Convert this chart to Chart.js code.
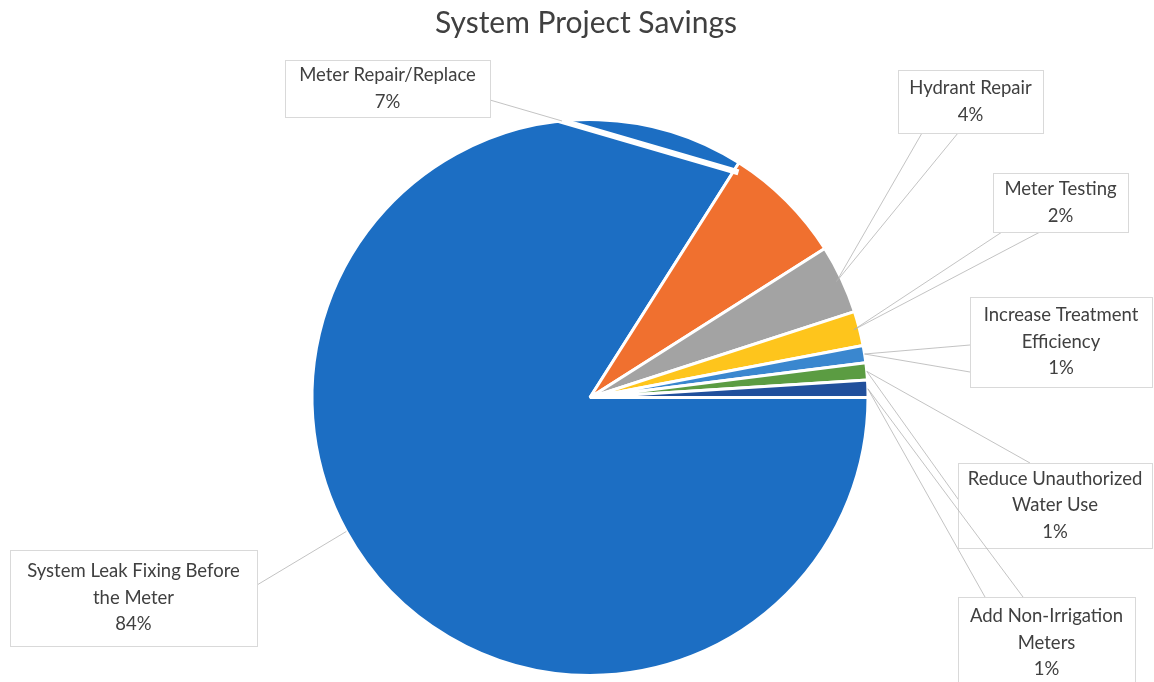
<!DOCTYPE html>
<html>
<head>
<meta charset="utf-8">
<title>System Project Savings</title>
<script src="https://cdn.jsdelivr.net/npm/chart.js@4.4.1/dist/chart.umd.min.js"></script>
<style>
  html, body { margin: 0; padding: 0; background: #ffffff; }
</style>
</head>
<body>
<canvas id="savingsChart" width="1154" height="682"></canvas>
<script>
const categories = [
  'System Leak Fixing Before the Meter',
  'Meter Repair/Replace',
  'Hydrant Repair',
  'Meter Testing',
  'Increase Treatment Efficiency',
  'Reduce Unauthorized Water Use',
  'Add Non-Irrigation Meters'
];
const savingsPct = [84, 7, 4, 2, 1, 1, 1];
const sliceColors = ['#1c6ec3', '#f0702f', '#a3a3a3', '#fec51c', '#3a87cf', '#5b9c42', '#21509c'];

// how each category name wraps inside its callout
const labelLines = [
  ['System Leak Fixing Before', 'the Meter'],
  ['Meter Repair/Replace'],
  ['Hydrant Repair'],
  ['Meter Testing'],
  ['Increase Treatment', 'Efficiency'],
  ['Reduce Unauthorized', 'Water Use'],
  ['Add Non-Irrigation', 'Meters']
];

// callout boxes: box rect, where leader lines meet the box,
// and where along the slice (fraction of its sweep, fraction of radius) they start
const callouts = [
  { x: 10,  y: 550, w: 247, h: 96, ends: [[252, 588]], t: 0.5, r: 1.0 },
  { x: 285, y: 60,  w: 205, h: 57, ends: [[490, 100]], t: 0.04, r: 0.97, cut: true },
  { x: 898, y: 70,  w: 145, h: 63, ends: [[922, 133], [958, 133]], t: 0.5, r: 0.98 },
  { x: 993, y: 173, w: 135, h: 59, ends: [[1002, 232], [1040, 232]], t: 0.5, r: 0.98 },
  { x: 970, y: 297, w: 182, h: 90, ends: [[970, 345], [970, 372]], t: 0.5, r: 1.0 },
  { x: 958, y: 463, w: 194, h: 85, ends: [[1030, 463], [993, 548]], t: 0.5, r: 1.0 },
  { x: 958, y: 597, w: 177, h: 92, ends: [[1023, 597], [985, 597]], t: 0.5, r: 1.0 }
];

const FONT = 'Lato, "Liberation Sans", sans-serif';
const TEXT_COLOR = '#404040';

const calloutPlugin = {
  id: 'callouts',
  afterDraw(chart) {
    const ctx = chart.ctx;
    const arcs = chart.getDatasetMeta(0).data;

    ctx.save();
    // title
    ctx.fillStyle = TEXT_COLOR;
    ctx.font = '30px ' + FONT;
    ctx.textAlign = 'center';
    ctx.textBaseline = 'middle';
    ctx.fillText('System Project Savings', 586, 23);

    callouts.forEach((c, i) => {
      const arc = arcs[i];
      const p = arc.getProps(['x', 'y', 'startAngle', 'endAngle', 'outerRadius']);
      const a = p.startAngle + (p.endAngle - p.startAngle) * c.t;
      const ax = p.x + Math.cos(a) * p.outerRadius * c.r;
      const ay = p.y + Math.sin(a) * p.outerRadius * c.r;

      // the line that cuts across the big slice shows as a white gap inside the pie
      if (c.cut) {
        ctx.save();
        ctx.beginPath();
        ctx.arc(p.x, p.y, p.outerRadius, 0, Math.PI * 2);
        ctx.clip();
        ctx.strokeStyle = '#ffffff';
        ctx.lineWidth = 6;
        ctx.beginPath();
        ctx.moveTo(c.ends[0][0], c.ends[0][1]);
        ctx.lineTo(ax, ay);
        ctx.stroke();
        ctx.restore();
      }

      ctx.strokeStyle = 'rgba(175,175,175,0.75)';
      ctx.lineWidth = 1;
      c.ends.forEach(e => {
        const dx = ax - e[0], dy = ay - e[1];
        let k = 1;
        if (c.cut) {
          // only the part outside the pie stays grey
          for (let s = 0; s <= 1; s += 0.005) {
            const px = e[0] + dx * s, py = e[1] + dy * s;
            if (Math.hypot(px - p.x, py - p.y) < p.outerRadius) { k = s; break; }
          }
        }
        ctx.beginPath();
        ctx.moveTo(e[0], e[1]);
        ctx.lineTo(e[0] + dx * k, e[1] + dy * k);
        ctx.stroke();
      });

      // box
      ctx.fillStyle = '#ffffff';
      ctx.fillRect(c.x, c.y, c.w, c.h);
      ctx.strokeStyle = '#d9d9d9';
      ctx.strokeRect(c.x + 0.5, c.y + 0.5, c.w, c.h);

      // text
      const lines = labelLines[i].concat([savingsPct[i] + '%']);
      const lh = 26.5;
      const cx = c.x + c.w / 2;
      const y0 = c.y + c.h / 2 - (lines.length - 1) * lh / 2;
      ctx.fillStyle = TEXT_COLOR;
      ctx.font = '18.5px ' + FONT;
      lines.forEach((ln, j) => ctx.fillText(ln, cx, y0 + j * lh));
    });
    ctx.restore();
  }
};

const ctx = document.getElementById('savingsChart').getContext('2d');
new Chart(ctx, {
  type: 'pie',
  data: {
    labels: categories,
    datasets: [{
      data: savingsPct,
      backgroundColor: sliceColors,
      borderColor: '#ffffff',
      borderWidth: 3,
      hoverOffset: 0
    }]
  },
  options: {
    responsive: false,
    animation: false,
    rotation: 90,
    layout: { padding: { top: 118, bottom: 5, left: 26, right: 0 } },
    plugins: {
      legend: { display: false },
      title: { display: false },
      tooltip: { enabled: false }
    }
  },
  plugins: [calloutPlugin]
});
</script>
</body>
</html>
